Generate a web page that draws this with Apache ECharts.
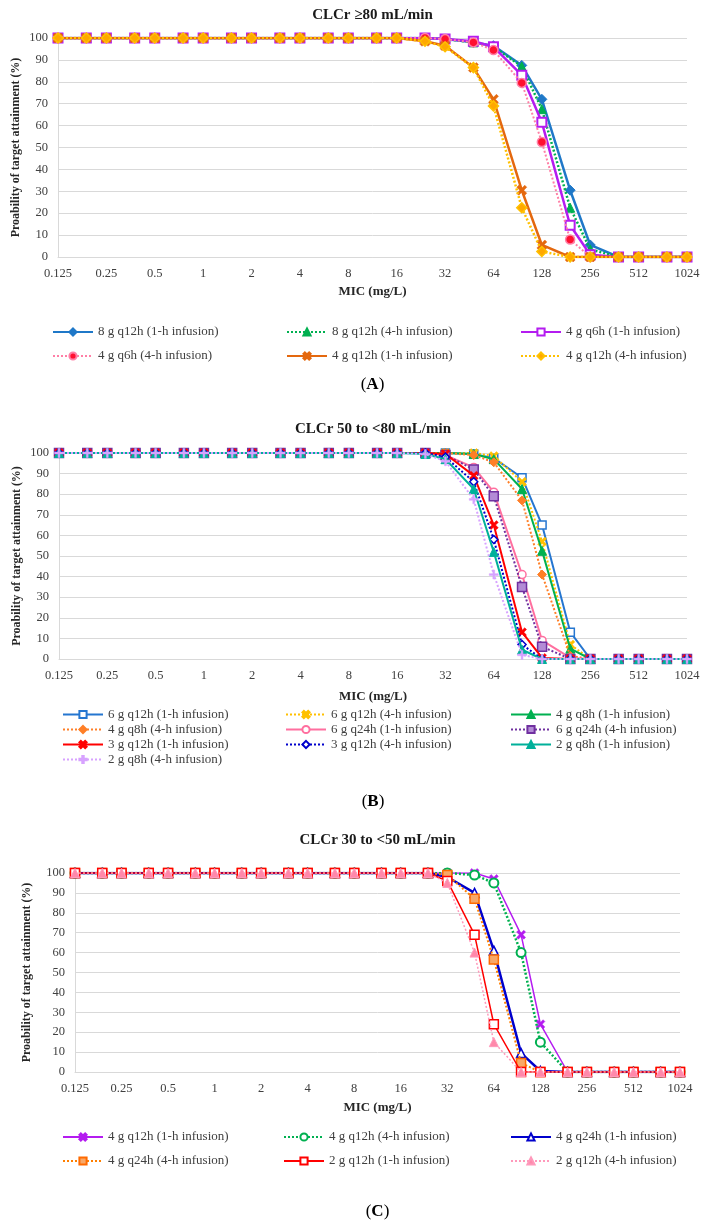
<!DOCTYPE html>
<html>
<head>
<meta charset="utf-8">
<script src="https://cdn.jsdelivr.net/npm/echarts@6/dist/echarts.min.js"></script>
<style>
html,body{margin:0;padding:0;background:#fff;}
#a,#b,#c{position:absolute;left:0;width:710px;}
#a{top:0;height:400px;}
#b{top:400px;height:420px;}
#c{top:820px;height:409px;}
</style>
</head>
<body>
<div id="a"></div><div id="b"></div><div id="c"></div>
<script>
// ---------- DATA ----------
const mic = [0.125, 0.1875, 0.25, 0.375, 0.5, 0.75, 1, 1.5, 2, 3, 4, 6, 8, 12, 16, 24, 32, 48, 64, 96, 128, 192, 256, 384, 512, 768, 1024];
const xTickLabels = ['0.125','0.25','0.5','1','2','4','8','16','32','64','128','256','512','1024'];

// Panel A: CLCr >=80 mL/min
const namesA = ['8 g q12h (1-h infusion)','8 g q12h (4-h infusion)','4 g q6h (1-h infusion)','4 g q6h (4-h infusion)','4 g q12h (1-h infusion)','4 g q12h (4-h infusion)'];
const a_8g_q12h_1h = [100,100,100,100,100,100,100,100,100,100,100,100,100,100,100,100,99.5,98,96.5,87.5,72,30.5,5.5,0,0,0,0];
const a_8g_q12h_4h = [100,100,100,100,100,100,100,100,100,100,100,100,100,100,100,100,99.5,98,96,87,67.5,22.5,3.5,0,0,0,0];
const a_4g_q6h_1h  = [100,100,100,100,100,100,100,100,100,100,100,100,100,100,100,100,99.5,98.5,96,83,61.5,14.5,1,0,0,0,0];
const a_4g_q6h_4h  = [100,100,100,100,100,100,100,100,100,100,100,100,100,100,100,100,99.5,98,94.5,79.5,52.5,8,0,0,0,0,0];
const a_4g_q12h_1h = [100,100,100,100,100,100,100,100,100,100,100,100,100,100,100,98.5,96.5,86.5,72,30.5,5.5,0,0,0,0,0,0];
const a_4g_q12h_4h = [100,100,100,100,100,100,100,100,100,100,100,100,100,100,100,98.5,96,86.5,69,22.5,2.5,0,0,0,0,0,0];

// Panel B: CLCr 50 to <80 mL/min
const namesB = ['6 g q12h (1-h infusion)','6 g q12h (4-h infusion)','4 g q8h (1-h infusion)','4 g q8h (4-h infusion)','6 g q24h (1-h infusion)','6 g q24h (4-h infusion)','3 g q12h (1-h infusion)','3 g q12h (4-h infusion)','2 g q8h (1-h infusion)','2 g q8h (4-h infusion)'];
const b_6g_q12h_1h = [100,100,100,100,100,100,100,100,100,100,100,100,100,100,100,100,100,99.5,97.5,88,65,13,0,0,0,0,0];
const b_6g_q12h_4h = [100,100,100,100,100,100,100,100,100,100,100,100,100,100,100,100,100,100,98.5,86,57,7,0,0,0,0,0];
const b_4g_q8h_1h  = [100,100,100,100,100,100,100,100,100,100,100,100,100,100,100,100,100,99.5,97,82.5,52.5,5,0,0,0,0,0];
const b_4g_q8h_4h  = [100,100,100,100,100,100,100,100,100,100,100,100,100,100,100,100,100,99,95.5,77,41,1.5,0,0,0,0,0];
const b_6g_q24h_1h = [100,100,100,100,100,100,100,100,100,100,100,100,100,100,100,100,99,93,81,41,9,0.5,0,0,0,0,0];
const b_6g_q24h_4h = [100,100,100,100,100,100,100,100,100,100,100,100,100,100,100,100,99,92,79,35,6,0,0,0,0,0,0];
const b_3g_q12h_1h = [100,100,100,100,100,100,100,100,100,100,100,100,100,100,100,100,99.5,89,65,13,0.5,0,0,0,0,0,0];
const b_3g_q12h_4h = [100,100,100,100,100,100,100,100,100,100,100,100,100,100,100,100,98,86,58,7,0,0,0,0,0,0,0];
const b_2g_q8h_1h  = [100,100,100,100,100,100,100,100,100,100,100,100,100,100,100,99.5,97,82.5,52,4.5,0,0,0,0,0,0,0];
const b_2g_q8h_4h  = [100,100,100,100,100,100,100,100,100,100,100,100,100,100,100,99.5,96,77.5,41,2,0,0,0,0,0,0,0];

// Panel C: CLCr 30 to <50 mL/min
const namesC = ['4 g q12h (1-h infusion)','4 g q12h (4-h infusion)','4 g q24h (1-h infusion)','4 g q24h (4-h infusion)','2 g q12h (1-h infusion)','2 g q12h (4-h infusion)'];
const c_4g_q12h_1h = [100,100,100,100,100,100,100,100,100,100,100,100,100,100,100,100,100,100,97,69,24,0,0,0,0,0,0];
const c_4g_q12h_4h = [100,100,100,100,100,100,100,100,100,100,100,100,100,100,100,100,100,99,95,60,15,0,0,0,0,0,0];
const c_4g_q24h_1h = [100,100,100,100,100,100,100,100,100,100,100,100,100,100,100,100,98,90,61,9.5,0.5,0,0,0,0,0,0];
const c_4g_q24h_4h = [100,100,100,100,100,100,100,100,100,100,100,100,100,100,100,100,99,87,56.5,4.5,0,0,0,0,0,0,0];
const c_2g_q12h_1h = [100,100,100,100,100,100,100,100,100,100,100,100,100,100,100,100,96,69,24,0,0,0,0,0,0,0,0];
const c_2g_q12h_4h = [100,100,100,100,100,100,100,100,100,100,100,100,100,100,100,100,95,60,15,0,0,0,0,0,0,0,0];

// ---------- STYLES ----------
const FONT = '"Liberation Serif", "DejaVu Serif", serif';
const X_SYM = 'path://M0,2 L2,0 L5,3 L8,0 L10,2 L7,5 L10,8 L8,10 L5,7 L2,10 L0,8 L3,5 Z';
const PLUS_SYM = 'path://M4,0 H6 V4 H10 V6 H6 V10 H4 V6 H0 V4 H4 Z';

function st(color, lineType, width, symbol, size, fill, border, bw) {
  return {color, lineType, width, symbol, size, fill, border, bw};
}
const stylesA = [
  st('#1F78C8','solid',2.5,'diamond',10,'#1F78C8','#1F78C8',1),
  st('#00B050','dotted',2.5,'triangle',9,'#00B050','#00B050',1),
  st('#B41CF0','solid',2.5,'rect',9,'#ffffff','#B41CF0',2),
  st('#FF7FA6','dotted',2,'circle',9,'#FF1030','#FF7FA6',1.5),
  st('#E4680E','solid',2.5,X_SYM,10,'#E4680E','#E4680E',0.5),
  st('#FFC000','dotted',2.5,'diamond',10,'#FFA800','#FFC000',1.5)
];
const stylesB = [
  st('#2576D0','solid',2,'rect',8,'#ffffff','#2576D0',1.5),
  st('#FFC000','dotted',2,X_SYM,9,'#FFC000','#FFC000',0.5),
  st('#00B050','solid',2,'triangle',9,'#00B050','#00B050',1),
  st('#FF7F27','dotted',2,'diamond',9,'#FF7F27','#FF7F27',1),
  st('#FF6F9F','solid',2,'circle',8,'#ffffff','#FF6F9F',1.5),
  st('#7030A0','dotted',2,'rect',9,'#B38BD6','#7030A0',1.5),
  st('#FF0000','solid',2,X_SYM,9,'#FF0000','#FF0000',0.5),
  st('#0000CC','dotted',2,'diamond',8,'#ffffff','#0000CC',1.5),
  st('#00B09A','solid',2,'triangle',9,'#00B09A','#00B09A',1),
  st('#D7A2FF','dotted',2,PLUS_SYM,9,'#D7A2FF','#D7A2FF',0.5)
];
const stylesC = [
  st('#B41CF0','solid',1.5,X_SYM,9,'#B41CF0','#B41CF0',0.5),
  st('#00B050','dotted',2.5,'circle',9,'#ffffff','#00B050',2),
  st('#0000CC','solid',2.5,'triangle',9,'#ffffff','#0000CC',1.5),
  st('#FF7F00','dotted',2,'rect',9,'#F8A868','#FF6A00',1.5),
  st('#FF0000','solid',1.5,'rect',9,'#ffffff','#FF0000',1.5),
  st('#FF99BB','dotted',1.5,'triangle',9,'#FF88AA','#FF99BB',1)
];

function fmtTick(v) { return String(Number(Number(v).toPrecision(6))); }

function build(cfg) {
  const series = cfg.names.map((n, i) => {
    const s = cfg.styles[i];
    return {
      name: n, type: 'line', xAxisIndex: 0, yAxisIndex: 0,
      data: mic.map((x, k) => [x, cfg.values[i][k]]),
      symbol: s.symbol, symbolSize: s.size, showAllSymbol: true,
      lineStyle: {color: s.color, width: s.width, type: s.lineType === 'dotted' ? [2, 2] : 'solid'},
      itemStyle: {color: s.fill, borderColor: s.border, borderWidth: s.bw},
      emphasis: {disabled: true}, animation: false, z: 2 + i
    };
  });
  const legends = cfg.legendCols.map((col, ci) => ({
    orient: 'vertical', left: cfg.legendLeft[ci], top: cfg.legendTop, padding: 0,
    itemWidth: 40, itemHeight: cfg.legendItemH, itemGap: cfg.legendGap,
    data: col.map(i => cfg.names[i]), selectedMode: false,
    textStyle: {fontFamily: FONT, fontSize: 13, color: '#404040', lineHeight: cfg.legendLineH, padding: [0,0,0,0]}
  }));
  const g = cfg.grid;
  const cx = g.left + (710 - g.left - g.right) / 2;
  const graphic = [
    {type: 'text', x: cx, y: cfg.titleY, style: {text: cfg.title, font: 'bold 15px ' + FONT, fill: '#1a1a1a', align: 'center', verticalAlign: 'middle'}},
    {type: 'text', x: cx, y: cfg.micY, style: {text: 'MIC (mg/L)', font: 'bold 13px ' + FONT, fill: '#262626', align: 'center', verticalAlign: 'middle'}},
    {type: 'text', x: cfg.yTitleX, y: g.top + g.height / 2, rotation: Math.PI / 2,
      style: {text: 'Proability of target attainment (%)', font: 'bold 12px ' + FONT, fill: '#262626', align: 'center', verticalAlign: 'middle'}},
    {type: 'text', x: cx, y: cfg.panelY, style: {text: '({b|' + cfg.panel + '})', font: '17px ' + FONT, fill: '#000', align: 'center', verticalAlign: 'middle',
      rich: {b: {fontWeight: 'bold', fontSize: 17, fontFamily: FONT}}}}
  ];
  return {
    animation: false,
    backgroundColor: '#ffffff',
    grid: {left: g.left, right: g.right, top: g.top, height: g.height, containLabel: false},
    xAxis: {
      type: 'log', logBase: 2, min: 0.125, max: 1024, interval: 1,
      axisLine: {show: true, lineStyle: {color: '#d9d9d9', width: 1}},
      axisTick: {show: false}, splitLine: {show: false}, minorTick: {show: false},
      axisLabel: {interval: 0, margin: 10, fontFamily: FONT, fontSize: 12.5, color: '#404040',
        formatter: v => { const t = fmtTick(v); return xTickLabels.indexOf(t) >= 0 ? t : ''; }}
    },
    yAxis: {
      type: 'value', min: 0, max: 100, interval: 10,
      axisLine: {show: true, lineStyle: {color: '#d9d9d9', width: 1}},
      axisTick: {show: false},
      splitLine: {show: true, lineStyle: {color: '#d9d9d9', width: 1}},
      axisLabel: {margin: 10, fontFamily: FONT, fontSize: 12.5, color: '#404040'}
    },
    legend: legends,
    graphic: graphic,
    series: series
  };
}

const cfgA = {
  names: namesA, styles: stylesA,
  values: [a_8g_q12h_1h, a_8g_q12h_4h, a_4g_q6h_1h, a_4g_q6h_4h, a_4g_q12h_1h, a_4g_q12h_4h],
  grid: {left: 58, right: 23, top: 38, height: 219},
  title: 'CLCr ≥80 mL/min', titleY: 15, micY: 292, panelY: 385, panel: 'A', yTitleX: 16,
  legendCols: [[0,3],[1,4],[2,5]], legendLeft: [52, 286, 520], legendTop: 325, legendItemH: 9, legendGap: 10, legendLineH: 14
};
const cfgB = {
  names: namesB, styles: stylesB,
  values: [b_6g_q12h_1h, b_6g_q12h_4h, b_4g_q8h_1h, b_4g_q8h_4h, b_6g_q24h_1h, b_6g_q24h_4h, b_3g_q12h_1h, b_3g_q12h_4h, b_2g_q8h_1h, b_2g_q8h_4h],
  grid: {left: 59, right: 23, top: 53, height: 206},
  title: 'CLCr 50 to <80 mL/min', titleY: 29, micY: 297, panelY: 402, panel: 'B', yTitleX: 17,
  legendCols: [[0,3,6,9],[1,4,7],[2,5,8]], legendLeft: [62, 285, 510], legendTop: 308, legendItemH: 9, legendGap: 2, legendLineH: 12
};
const cfgC = {
  names: namesC, styles: stylesC,
  values: [c_4g_q12h_1h, c_4g_q12h_4h, c_4g_q24h_1h, c_4g_q24h_4h, c_2g_q12h_1h, c_2g_q12h_4h],
  grid: {left: 75, right: 30, top: 53, height: 199},
  title: 'CLCr 30 to <50 mL/min', titleY: 20, micY: 288, panelY: 392, panel: 'C', yTitleX: 27,
  legendCols: [[0,3],[1,4],[2,5]], legendLeft: [62, 283, 510], legendTop: 310, legendItemH: 9, legendGap: 10, legendLineH: 14
};

[['a', cfgA], ['b', cfgB], ['c', cfgC]].forEach(([id, cfg]) => {
  const ch = echarts.init(document.getElementById(id), null, {renderer: 'canvas'});
  ch.setOption(build(cfg));
});
</script>
</body>
</html>
